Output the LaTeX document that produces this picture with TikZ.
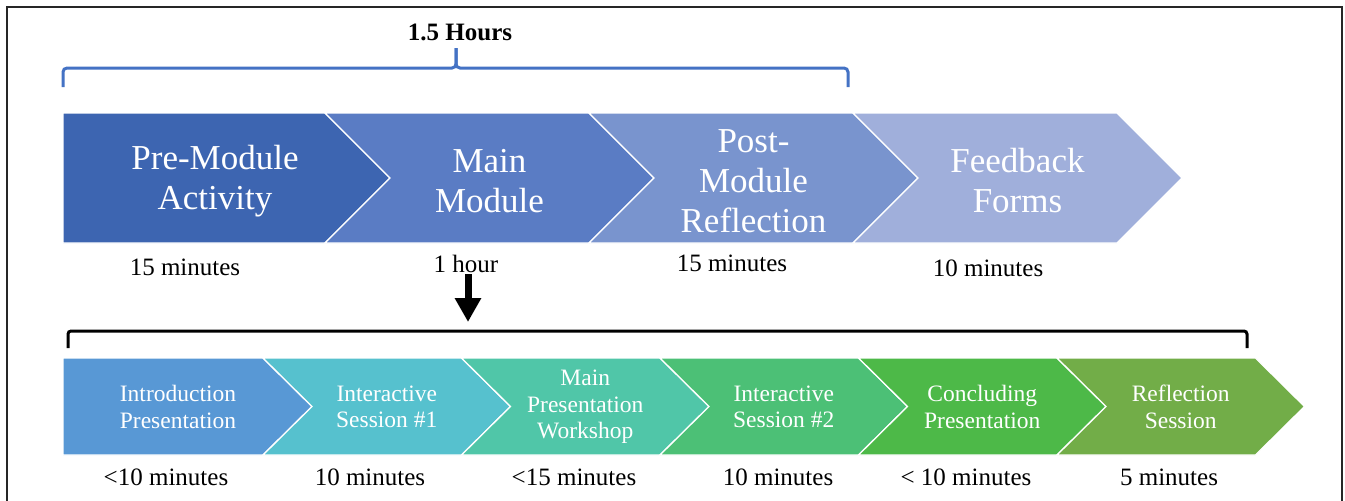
\documentclass[tikz,border=0pt]{standalone}
\usepackage{fontspec}
\setmainfont{Liberation Serif}
\usetikzlibrary{arrows.meta}

\definecolor{preC}{RGB}{61,101,177}
\definecolor{mainC}{RGB}{90,124,196}
\definecolor{postC}{RGB}{121,148,206}
\definecolor{feedC}{RGB}{160,175,219}
\definecolor{introC}{RGB}{88,152,213}
\definecolor{intoneC}{RGB}{86,193,206}
\definecolor{workC}{RGB}{80,198,168}
\definecolor{inttwoC}{RGB}{76,192,118}
\definecolor{conclC}{RGB}{77,185,72}
\definecolor{reflC}{RGB}{114,173,72}
\definecolor{braceC}{RGB}{68,114,196}

\begin{document}
\begin{tikzpicture}[x=1pt,y=-1pt,
    chev/.style={draw=white,line width=1.3pt,line join=miter},
    toptxt/.style={text=white,align=center,font=\fontsize{35}{40}\selectfont},
    subtxt/.style={text=white,align=center,font=\fontsize{23.5}{26.5}\selectfont},
    dur/.style={anchor=base,inner sep=2pt,font=\fontsize{25}{28}\selectfont}]
    \useasboundingbox (0,0) rectangle (1345,501);

    % outer frame (open at the bottom)
    \draw[line width=2.2pt,black!85] (7,501) -- (7,7) -- (1342,7) -- (1342,501);

    % heading and blue brace
    \node[anchor=base,font=\fontsize{25}{28}\selectfont\bfseries] (total) at (460,40) {1.5 Hours};
    \draw[braceC,line width=3pt,rounded corners=4pt] (63,87) -- (63,68) -- (456,68) -- (456,48);
    \draw[braceC,line width=3pt,rounded corners=4pt] (456,48) -- (456,68) -- (848,68) -- (848,87);

    % top row of chevrons
    \fill[preC,chev] (63,113) -- (325,113) -- (390,178) -- (325,243) -- (63,243) -- cycle;
    \node[toptxt] (pre) at (215,181) {Pre-Module\\Activity};
    \foreach \s/\col/\txt/\nm in {325/mainC/{Main\\Module}/main,
                                  589/postC/{Post-\\Module\\Reflection}/post,
                                  853/feedC/{Feedback\\Forms}/feed}
    {
        \fill[\col,chev] (\s,113) -- (\s+264,113) -- (\s+329,178) -- (\s+264,243) -- (\s,243) -- (\s+65,178) -- cycle;
        \node[toptxt] (\nm) at (\s+164.5,181) {\txt};
    }

    % durations, top row
    \node[dur] (tpre) at (185,275) {15 minutes};
    \node[dur] (hour) at (466,272) {1 hour};
    \node[dur] (tpost) at (732,271) {15 minutes};
    \node[dur] (tfeed) at (988,276) {10 minutes};

    % arrow down to the breakdown of the main module
    \coordinate (arrtip) at (468,322);
    \draw[line width=7pt,-{Triangle[width=25pt,length=24pt]}] (hour.south -| arrtip) -- (arrtip);

    % black bracket
    \draw[line width=3pt,rounded corners=3pt] (68,348) -- (68,331) -- (1247,331) -- (1247,348);

    % bottom row of chevrons
    \fill[introC,chev] (63,358) -- (263,358) -- (312,406.5) -- (263,455) -- (63,455) -- cycle;
    \node[subtxt] (intro) at (178,407) {Introduction\\Presentation};
    \foreach \s/\col/\txt/\nm in {263/intoneC/{Interactive\\Session \#1}/intone,
                                  461.5/workC/{Main\\Presentation\\Workshop}/work,
                                  660/inttwoC/{Interactive\\Session \#2}/inttwo,
                                  858.5/conclC/{Concluding\\Presentation}/concl,
                                  1057/reflC/{Reflection\\Session}/refl}
    {
        \fill[\col,chev] (\s,358) -- (\s+198.5,358) -- (\s+247.5,406.5) -- (\s+198.5,455) -- (\s,455) -- (\s+49,406.5) -- cycle;
        \node[subtxt] (\nm) at (\s+123.75,407) {\txt};
    }

    % durations, bottom row
    \node[dur] (dintro) at (166,485) {<10 minutes};
    \node[dur] (dintone) at (370,485) {10 minutes};
    \node[dur] (dwork) at (574,485) {<15 minutes};
    \node[dur] (dinttwo) at (778,485) {10 minutes};
    \node[dur] (dconcl) at (966,485) {< 10 minutes};
    \node[dur] (drefl) at (1169,485) {5 minutes};
\end{tikzpicture}
\end{document}
